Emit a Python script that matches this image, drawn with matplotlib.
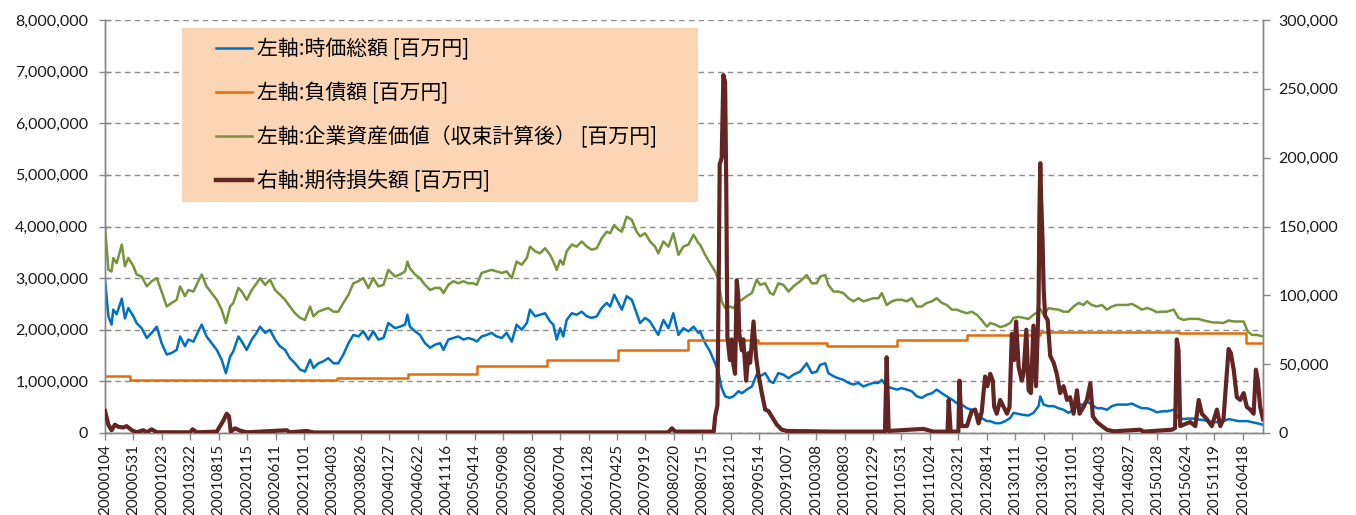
import matplotlib
matplotlib.use("Agg")
import matplotlib.pyplot as plt
from matplotlib.patches import Rectangle
from matplotlib.lines import Line2D
from matplotlib.ticker import FuncFormatter
import numpy as np

# ---------------- data ----------------
# trading-day index (0 = 2000-01-04) ; values in units of 1,000,000 [百万円]
day_idx = [0, 12, 23, 29, 41, 59, 70, 82, 100, 111, 129, 147, 164, 182, 199, 217, 234, 252, 264, 281,
           293, 311, 328, 340, 357, 375, 393, 410, 425, 440, 451, 469, 481, 498, 516, 533, 545, 563, 580, 598,
           615, 633, 650, 668, 686, 703, 721, 733, 750, 768, 785, 803, 820, 838, 856, 873, 891, 908, 926, 943,
           961, 979, 996, 1020, 1037, 1055, 1063, 1072, 1090, 1107, 1125, 1143, 1160, 1178, 1190, 1207, 1225, 1242, 1260, 1277,
           1295, 1307, 1324, 1342, 1359, 1377, 1395, 1412, 1430, 1447, 1465, 1483, 1494, 1512, 1529, 1547, 1565, 1576, 1588, 1600,
           1611, 1623, 1641, 1658, 1676, 1694, 1711, 1729, 1746, 1764, 1776, 1790, 1805, 1817, 1834, 1852, 1869, 1881, 1899, 1916,
           1934, 1945, 1963, 1981, 1998, 2016, 2033, 2051, 2069, 2086, 2092, 2110, 2127, 2145, 2156, 2168, 2180, 2197, 2209, 2227,
           2239, 2256, 2274, 2291, 2303, 2321, 2338, 2350, 2367, 2385, 2403, 2420, 2444, 2467, 2485, 2502, 2514, 2532, 2543, 2561,
           2578, 2596, 2614, 2631, 2649, 2666, 2684, 2701, 2719, 2731, 2748, 2766, 2784, 2801, 2819, 2836, 2854, 2871, 2889, 2907,
           2924, 2942, 2959, 2977, 2994, 3012, 3030, 3047, 3065, 3082, 3100, 3112, 3130, 3147, 3165, 3182, 3194, 3212, 3229, 3247,
           3264, 3282, 3288, 3300, 3317, 3335, 3352, 3370, 3387, 3405, 3423, 3440, 3452, 3469, 3487, 3505, 3522, 3540, 3557, 3575,
           3593, 3610, 3628, 3645, 3663, 3680, 3698, 3716, 3733, 3757, 3774, 3792, 3809, 3827, 3845, 3862, 3880, 3897, 3915, 3932,
           3950, 3968, 3985, 4003, 4017, 4032, 4050, 4071]

market_cap = [2.97, 2.26, 2.10, 2.39, 2.30, 2.60, 2.22, 2.42, 2.26, 2.13, 2.03, 1.84, 1.94, 2.06, 1.74, 1.52, 1.55, 1.61, 1.87, 1.68,
              1.81, 1.77, 1.97, 2.10, 1.87, 1.74, 1.61, 1.42, 1.16, 1.48, 1.58, 1.87, 1.77, 1.61, 1.81, 1.94, 2.06, 1.94, 2.00, 1.81,
              1.68, 1.61, 1.45, 1.35, 1.23, 1.19, 1.42, 1.26, 1.35, 1.39, 1.45, 1.35, 1.35, 1.52, 1.74, 1.90, 1.87, 1.97, 1.81, 1.97,
              1.81, 1.84, 2.13, 2.03, 2.06, 2.10, 2.29, 2.06, 1.97, 1.90, 1.74, 1.65, 1.71, 1.74, 1.61, 1.81, 1.84, 1.87, 1.81, 1.84,
              1.81, 1.77, 1.87, 1.90, 1.94, 1.87, 1.84, 1.94, 1.77, 2.10, 2.00, 2.13, 2.39, 2.26, 2.29, 2.32, 2.16, 2.10, 1.81, 2.03,
              1.87, 2.19, 2.32, 2.29, 2.35, 2.26, 2.23, 2.26, 2.42, 2.52, 2.45, 2.68, 2.52, 2.39, 2.65, 2.58, 2.32, 2.13, 2.23, 2.16,
              2.00, 1.90, 2.19, 2.03, 2.32, 1.90, 2.03, 1.97, 2.06, 1.94, 1.97, 1.74, 1.58, 1.35, 1.19, 0.87, 0.71, 0.68, 0.71, 0.81,
              0.77, 0.84, 0.90, 1.13, 1.10, 1.16, 1.00, 0.97, 1.16, 1.13, 1.06, 1.13, 1.19, 1.35, 1.16, 1.19, 1.32, 1.35, 1.16, 1.10,
              1.06, 1.03, 0.97, 0.94, 0.97, 0.90, 0.94, 0.97, 0.97, 1.03, 0.90, 0.87, 0.84, 0.87, 0.84, 0.81, 0.71, 0.68, 0.74, 0.77,
              0.84, 0.77, 0.71, 0.65, 0.58, 0.55, 0.48, 0.45, 0.39, 0.29, 0.23, 0.23, 0.19, 0.19, 0.23, 0.29, 0.39, 0.37, 0.35, 0.34,
              0.39, 0.52, 0.71, 0.55, 0.52, 0.52, 0.48, 0.45, 0.39, 0.45, 0.55, 0.55, 0.61, 0.55, 0.48, 0.48, 0.45, 0.52, 0.55, 0.55,
              0.55, 0.57, 0.52, 0.48, 0.48, 0.45, 0.40, 0.42, 0.42, 0.45, 0.29, 0.27, 0.28, 0.28, 0.26, 0.25, 0.23, 0.21, 0.21, 0.23,
              0.27, 0.25, 0.23, 0.23, 0.23, 0.21, 0.19, 0.16]

asset_value = [4.00, 3.16, 3.13, 3.39, 3.29, 3.65, 3.23, 3.39, 3.23, 3.07, 3.03, 2.84, 2.94, 3.00, 2.74, 2.45, 2.52, 2.58, 2.84, 2.65,
               2.77, 2.74, 2.94, 3.07, 2.84, 2.71, 2.58, 2.39, 2.13, 2.45, 2.52, 2.81, 2.74, 2.58, 2.77, 2.90, 3.00, 2.87, 2.97, 2.77,
               2.68, 2.58, 2.45, 2.32, 2.23, 2.19, 2.45, 2.26, 2.35, 2.39, 2.42, 2.35, 2.35, 2.52, 2.68, 2.90, 2.94, 3.00, 2.81, 3.00,
               2.84, 2.87, 3.16, 3.03, 3.07, 3.13, 3.32, 3.19, 3.07, 3.00, 2.87, 2.77, 2.81, 2.81, 2.71, 2.87, 2.94, 2.90, 2.94, 2.90,
               2.90, 2.87, 3.10, 3.13, 3.16, 3.13, 3.10, 3.13, 3.00, 3.32, 3.26, 3.39, 3.61, 3.52, 3.48, 3.58, 3.45, 3.32, 3.16, 3.35,
               3.26, 3.52, 3.65, 3.61, 3.71, 3.61, 3.55, 3.58, 3.77, 3.90, 3.87, 4.03, 3.94, 3.90, 4.19, 4.13, 3.90, 3.81, 3.87, 3.71,
               3.61, 3.48, 3.71, 3.61, 3.87, 3.45, 3.61, 3.65, 3.84, 3.68, 3.65, 3.45, 3.29, 3.13, 2.97, 2.55, 2.42, 2.45, 2.42, 2.55,
               2.58, 2.65, 2.71, 2.97, 2.87, 2.90, 2.71, 2.68, 2.90, 2.87, 2.74, 2.84, 2.94, 3.06, 2.90, 2.90, 3.03, 3.06, 2.87, 2.74,
               2.74, 2.71, 2.61, 2.55, 2.61, 2.55, 2.58, 2.61, 2.61, 2.71, 2.48, 2.55, 2.58, 2.58, 2.55, 2.61, 2.45, 2.45, 2.52, 2.55,
               2.61, 2.52, 2.48, 2.39, 2.39, 2.35, 2.32, 2.35, 2.29, 2.19, 2.06, 2.13, 2.10, 2.05, 2.08, 2.13, 2.23, 2.25, 2.23, 2.21,
               2.29, 2.35, 2.40, 2.29, 2.42, 2.40, 2.39, 2.35, 2.35, 2.45, 2.52, 2.48, 2.55, 2.48, 2.45, 2.48, 2.39, 2.45, 2.48, 2.48,
               2.48, 2.50, 2.45, 2.39, 2.42, 2.39, 2.34, 2.35, 2.35, 2.39, 2.23, 2.19, 2.21, 2.21, 2.21, 2.18, 2.16, 2.14, 2.14, 2.13,
               2.18, 2.16, 2.16, 2.16, 1.97, 1.90, 1.90, 1.87]

# liabilities: step levels (start day index, value in 1,000,000 [百万円])
debt_start = [0, 88, 815, 1066, 1309, 1555, 1803, 2049, 2294, 2537, 2784, 3030, 3288, 3774, 4012]
debt_value = [1.10, 1.03, 1.06, 1.15, 1.29, 1.41, 1.60, 1.80, 1.74, 1.69, 1.80, 1.89, 1.96, 1.94, 1.75]
last_day = 4071

# expected loss (right axis), in 1,000 [百万円]
loss_idx = [0, 12, 23, 35, 47, 64, 76, 94, 111, 135, 147, 164, 182, 299, 308, 322, 393, 416, 428, 436,
            442, 457, 475, 498, 639, 650, 709, 733, 1980, 1993, 2005, 2140, 2145, 2153, 2158, 2161, 2168, 2174, 2180, 2184,
            2188, 2197, 2203, 2209, 2215, 2221, 2226, 2230, 2239, 2244, 2254, 2262, 2268, 2280, 2289, 2297, 2309, 2321, 2332, 2344,
            2362, 2379, 2397, 2561, 2742, 2748, 2755, 2877, 2912, 2962, 2966, 2973, 3000, 3004, 3011, 3030, 3047, 3059, 3071, 3082,
            3094, 3102, 3112, 3121, 3126, 3135, 3147, 3159, 3171, 3180, 3188, 3196, 3203, 3212, 3223, 3229, 3239, 3247, 3255, 3264,
            3273, 3282, 3285, 3288, 3291, 3296, 3300, 3305, 3314, 3323, 3335, 3346, 3358, 3370, 3382, 3393, 3405, 3417, 3426, 3440,
            3452, 3464, 3473, 3487, 3505, 3522, 3546, 3639, 3651, 3751, 3762, 3768, 3774, 3780, 3792, 3815, 3833, 3845, 3856, 3874,
            3891, 3909, 3921, 3932, 3950, 3958, 3968, 3979, 3991, 4003, 4014, 4026, 4038, 4046, 4053, 4061, 4071]
expected_loss = [16, 6, 2, 6, 4.5, 4, 5, 2, 0.5, 2, 0.5, 2.7, 0.5, 0.5, 2.7, 0.5, 1, 9, 14, 12,
                 1, 3.4, 1.7, 0.5, 2, 0.5, 1.5, 0.4, 0.4, 3.4, 1, 1, 12, 20, 120, 195, 200, 260, 255, 180,
                 70, 53, 68, 50, 43, 111, 100, 72, 60, 68, 38, 58, 51, 81, 55, 43, 29, 17, 16, 12,
                 6, 2.4, 1.5, 1, 1, 55, 1.5, 3, 1, 1, 24, 1, 1, 38, 5, 5, 16, 17, 7, 15,
                 41, 34, 43, 38, 19, 14, 24, 19, 14, 19, 72, 53, 81, 48, 38, 43, 75, 31, 29, 78,
                 34, 94, 160, 196, 170, 140, 104, 85, 82, 56, 51, 43, 29, 34, 24, 26, 14, 31, 14, 19,
                 24, 36, 12, 8, 5, 2.4, 1.2, 2.4, 1, 2.4, 3.6, 68, 60, 5, 6, 8, 5, 24, 14, 10,
                 5, 17, 5, 10, 61, 58, 46, 26, 24, 29, 19, 17, 14, 46, 38, 19, 10]

date_labels = ["20000104", "20000531", "20001023", "20010322", "20010815", "20020115", "20020611",
               "20021101", "20030403", "20030826", "20040127", "20040622", "20041116", "20050414",
               "20050908", "20060208", "20060704", "20061128", "20070425", "20070919", "20080220",
               "20080715", "20081210", "20090514", "20091007", "20100308", "20100803", "20101229",
               "20110531", "20111024", "20120321", "20120814", "20130111", "20130610", "20131101",
               "20140403", "20140827", "20150128", "20150624", "20151119", "20160418"]
label_step = 100

series_names = ["左軸:時価総額 [百万円]", "左軸:負債額 [百万円]",
                "左軸:企業資産価値（収束計算後） [百万円]", "右軸:期待損失額 [百万円]"]

# ---------------- styling ----------------
C_BLUE = "#0070C0"
C_ORANGE = "#E46C0A"
C_GREEN = "#77933C"
C_BROWN = "#632523"
C_GRID = "#8C8C8C"
C_AXIS = "#868686"
TICK_FONT = "Lato"

W, H = 1356, 515
fig = plt.figure(figsize=(W / 100, H / 100), dpi=100)
ax = fig.add_axes([105 / W, 1 - 433 / H, (1263 - 105) / W, (433 - 20) / H])
ax2 = ax.twinx()

unit_left = 1e6
unit_right = 1e3

ax.plot(day_idx, np.array(market_cap) * unit_left, color=C_BLUE, lw=1.8, zorder=3)
dx = debt_start + [last_day]
dy = debt_value + [debt_value[-1]]
ax.plot(dx, np.array(dy) * unit_left, color=C_ORANGE, lw=1.8, drawstyle="steps-post", zorder=3)
ax.plot(day_idx, np.array(asset_value) * unit_left, color=C_GREEN, lw=1.8, zorder=3)
ax2.plot(loss_idx, np.array(expected_loss) * unit_right, color=C_BROWN, lw=3.0, zorder=3,
         solid_joinstyle="round")

ax.set_xlim(0, last_day)
ax.set_ylim(0, 8e6)
ax2.set_ylim(0, 3e5)
ax.set_yticks(np.arange(0, 8e6 + 1, 1e6))
ax2.set_yticks(np.arange(0, 3e5 + 1, 5e4))
fmt = FuncFormatter(lambda v, p: f"{v:,.0f}")
ax.yaxis.set_major_formatter(fmt)
ax2.yaxis.set_major_formatter(fmt)

ax.set_xticks(np.arange(len(date_labels)) * label_step)
ax.set_xticklabels(date_labels, rotation=90, fontsize=11, family=TICK_FONT, color="#1a1a1a")
ax.tick_params(axis="x", length=5, width=1, color=C_AXIS, pad=3)
ax.tick_params(axis="y", direction="inout", length=8, width=1, color=C_AXIS, pad=8, labelsize=11.5)
ax2.tick_params(axis="y", direction="out", length=5, width=1, color=C_AXIS, pad=6, labelsize=11.5)
for lab in ax.get_yticklabels() + ax2.get_yticklabels():
    lab.set_family(TICK_FONT)
    lab.set_color("#1a1a1a")
ax2.tick_params(axis="x", which="both", bottom=False, top=False, labelbottom=False, labeltop=False)

ax.yaxis.grid(True, linestyle=(0, (4, 3)), color=C_GRID, lw=1.0)
ax.set_axisbelow(True)
for a in (ax, ax2):
    a.spines["top"].set_visible(False)
    for s in ("left", "right", "bottom"):
        a.spines[s].set_color(C_AXIS)
        a.spines[s].set_linewidth(1.0)

# legend background box
fig.patches.append(Rectangle((182 / W, 1 - 202 / H), (698 - 182) / W, (202 - 28) / H,
                             transform=fig.transFigure, facecolor="#FCD5B5",
                             edgecolor="none", zorder=1))
handles = [Line2D([], [], color=C_BLUE, lw=1.8),
           Line2D([], [], color=C_ORANGE, lw=1.8),
           Line2D([], [], color=C_GREEN, lw=1.8),
           Line2D([], [], color=C_BROWN, lw=3.2)]
leg = fig.legend(handles, series_names, loc="upper left",
                 bbox_to_anchor=(216 / W, 1 - 38 / H), bbox_transform=fig.transFigure,
                 frameon=False, borderpad=0, borderaxespad=0, handlelength=1.75,
                 handletextpad=0.2, labelspacing=1.05,
                 prop={"family": ["Noto Sans CJK JP"], "size": 15})
leg.set_zorder(10)

fig.savefig("out.png", dpi=100)
